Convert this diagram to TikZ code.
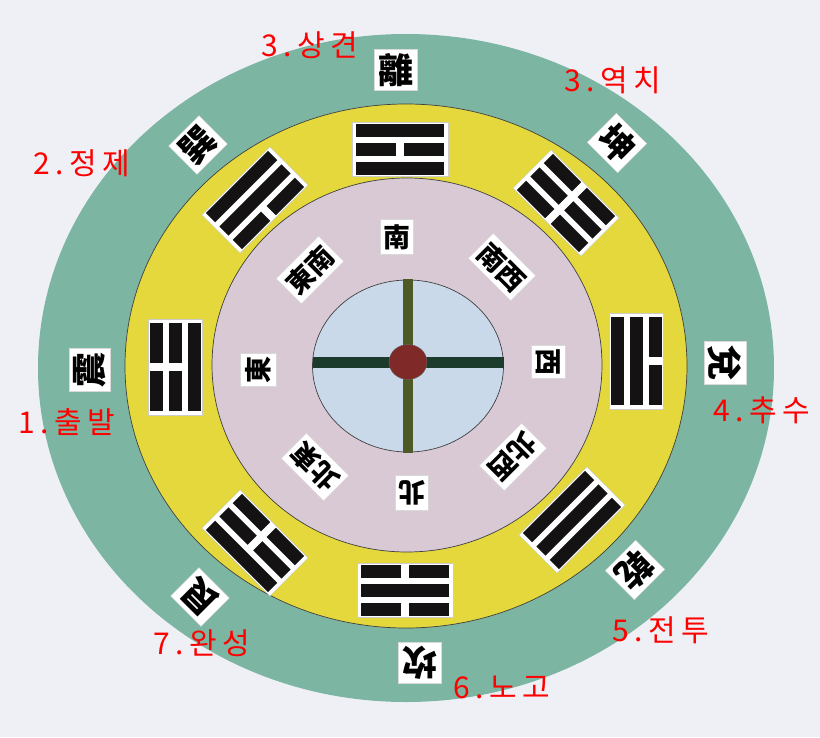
\documentclass[tikz,border=0pt]{standalone}
\usepackage{fontspec}
\newfontfamily\kr{Noto Sans CJK KR}[LetterSpace=18]
\newfontfamily\zh{Noto Sans CJK TC}
\definecolor{paper}{RGB}{238,240,246}
\definecolor{ringgreen}{RGB}{124,181,161}
\definecolor{ringyellow}{RGB}{228,216,60}
\definecolor{ringlilac}{RGB}{217,201,212}
\definecolor{ringblue}{RGB}{202,217,234}
\definecolor{crossh}{RGB}{29,59,44}
\definecolor{crossv}{RGB}{78,90,37}
\definecolor{hub}{RGB}{127,42,40}
\definecolor{barcol}{RGB}{20,18,18}
\newcommand{\drawbar}[2]{%
  \ifnum#2=1
    \fill[barcol] (-44,#1-6.5) rectangle (44,#1+6.5);
  \else
    \fill[barcol] (-44,#1-6.5) rectangle (-4,#1+6.5);
    \fill[barcol] (4,#1-6.5) rectangle (44,#1+6.5);
  \fi}
\newcommand{\trigram}[6]{%
  \begin{scope}[shift={(#1,#2)},rotate=#3]
    \filldraw[fill=white,draw=gray!40,line width=0.5pt] (-48,-27) rectangle (48,27);
    \drawbar{-19}{#4}
    \drawbar{0}{#5}
    \drawbar{19}{#6}
  \end{scope}}
\tikzset{
  ringline/.style={draw=black!75,line width=0.7pt},
  gualab/.style={fill=white,draw=gray!30,inner xsep=4pt,inner ysep=4pt,font=\zh\bfseries\fontsize{35}{35}\selectfont},
  dirlab/.style={fill=white,draw=gray!30,inner xsep=3pt,inner ysep=5pt,font=\zh\bfseries\fontsize{27}{27}\selectfont},
  korlab/.style={text=red,inner sep=0pt,font=\kr\fontsize{30}{30}\selectfont}
}
\begin{document}
\begin{tikzpicture}[x=1pt,y=-1pt]
\fill[paper] (0,0) rectangle (820,737);
\useasboundingbox (0,0) rectangle (820,737);
% rings
\filldraw[fill=ringgreen,draw=none] (406,368) ellipse [x radius=368,y radius=334];
\filldraw[fill=ringyellow,ringline] (406,366) ellipse [x radius=281,y radius=262];
\filldraw[fill=ringlilac,ringline] (407,365) ellipse [x radius=195,y radius=187];
\filldraw[fill=ringblue,ringline] (408,366) ellipse [x radius=95.5,y radius=86];
% cross and hub
\fill[crossv] (403,279) rectangle (413,453);
\fill[crossh] (313,357) rectangle (504,368);
\filldraw[fill=hub,draw=black!60,line width=0.4pt] (408,362) ellipse [x radius=19,y radius=17.5];
% trigrams (outer line, middle line, inner line)
\trigram{400}{149}{0}{1}{0}{1}
\trigram{255}{200}{45}{1}{1}{0}
\trigram{175}{367}{90}{0}{0}{1}
\trigram{255}{543}{135}{1}{0}{0}
\trigram{405}{590}{180}{0}{1}{0}
\trigram{572}{520}{-135}{1}{1}{1}
\trigram{636}{361}{-90}{0}{1}{1}
\trigram{566}{203}{-45}{0}{0}{0}
% trigram names
\node[gualab,rotate=0]    (li)   at (396,70)  {離};
\node[gualab,rotate=45]   (xun)  at (198,145) {巽};
\node[gualab,rotate=-45]  (kun)  at (617,143) {坤};
\node[gualab,rotate=90]   (zhen) at (90,370)  {震};
\node[gualab,rotate=-90]  (dui)  at (725,363) {兌};
\node[gualab,rotate=135]  (gen)  at (200,597) {艮};
\node[gualab,rotate=-135] (qian) at (635,570) {乾};
\node[gualab,rotate=180]  (kan)  at (420,663) {坎};
% directions
\node[dirlab,rotate=0]    (s)  at (397,237) {南};
\node[dirlab,rotate=45]   (se) at (310,270) {東南};
\node[dirlab,rotate=90]   (e)  at (258,370) {東};
\node[dirlab,rotate=135]  (ne) at (315,467) {北東};
\node[dirlab,rotate=180]  (n)  at (412,493) {北};
\node[dirlab,rotate=-135] (nw) at (513,457) {北西};
\node[dirlab,rotate=-90]  (w)  at (548,362) {西};
\node[dirlab,rotate=-45]  (sw) at (502,267) {南西};
% stage labels
\node[korlab] (k3a) at (310,45)  {3.상견};
\node[korlab] (k3b) at (613,80)  {3.역치};
\node[korlab] (k2)  at (82,163)  {2.정제};
\node[korlab] (k1)  at (67,422)  {1.출발};
\node[korlab] (k4)  at (762,410) {4.추수};
\node[korlab] (k5)  at (661,630) {5.전투};
\node[korlab] (k7)  at (202,643) {7.완성};
\node[korlab] (k6)  at (502,687) {6.노고};
\end{tikzpicture}
\end{document}
